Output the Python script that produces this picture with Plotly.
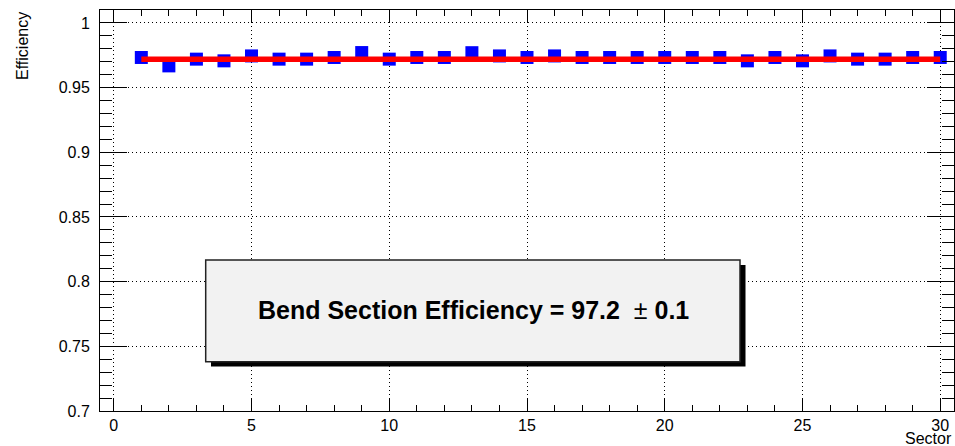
import plotly.graph_objects as go

# ---- data ----
sectors = list(range(1, 31))
efficiency = [0.9733, 0.9668, 0.9720, 0.9707, 0.9745, 0.9720, 0.9720, 0.9733, 0.9771, 0.9720,
              0.9733, 0.9733, 0.9770, 0.9745, 0.9733, 0.9745, 0.9733, 0.9733, 0.9733, 0.9733,
              0.9733, 0.9733, 0.9707, 0.9733, 0.9707, 0.9745, 0.9720, 0.9720, 0.9733, 0.9733]
fit_value = 0.972
fit_range = [1, 30]
y_tickvals = [0.7, 0.75, 0.8, 0.85, 0.9, 0.95, 1.0]
y_ticktext = ["0.7", "0.75", "0.8", "0.85", "0.9", "0.95", "1"]
x_tickvals = [0, 5, 10, 15, 20, 25, 30]
x_ticktext = ["0", "5", "10", "15", "20", "25", "30"]
label_text = "<b>Bend Section Efficiency = 97.2</b>  \u00b1 <b>0.1</b>"

FONT = "Liberation Sans, Arial, Helvetica, sans-serif"

fig = go.Figure()
fig.add_trace(go.Scatter(
    x=sectors, y=efficiency, mode="markers",
    marker=dict(symbol="square", size=13, color="#0000ff", line=dict(width=0)),
    showlegend=False, hoverinfo="x+y"))
fig.add_trace(go.Scatter(
    x=fit_range, y=[fit_value, fit_value], mode="lines",
    line=dict(color="#ff0000", width=5.5), showlegend=False))

W, H = 955, 446
ml, mr, mt, mb = 100, 1, 10, 35
pw, ph = W - ml - mr, H - mt - mb

def px_x(p):
    return (p - ml) / pw

def px_y(p):
    return (H - mb - p) / ph

# shadow and box (paper coords)
fig.add_shape(type="rect", xref="paper", yref="paper",
              x0=px_x(211), x1=px_x(745.5), y0=px_y(366.5), y1=px_y(265),
              fillcolor="black", line=dict(width=0), layer="above")
fig.add_shape(type="rect", xref="paper", yref="paper",
              x0=px_x(205.7), x1=px_x(740), y0=px_y(361.7), y1=px_y(260),
              fillcolor="#f2f2f2", line=dict(color="#222222", width=1.5), layer="above")
fig.add_annotation(xref="paper", yref="paper", x=px_x(473), y=px_y(310),
                   text=label_text, showarrow=False, xanchor="center", yanchor="middle",
                   font=dict(family=FONT, size=25, color="black"))

# axis titles
fig.add_annotation(xref="paper", yref="paper", x=px_x(22), y=1.0,
                   text="Efficiency", textangle=-90, showarrow=False,
                   xanchor="center", yanchor="top",
                   font=dict(family=FONT, size=16, color="black"))
fig.add_annotation(xref="paper", yref="paper", x=px_x(954), y=px_y(438.5),
                   text="Sector", showarrow=False, xanchor="right", yanchor="middle",
                   font=dict(family=FONT, size=16, color="black"))

fig.update_xaxes(range=[-0.5, 30.5], tickvals=x_tickvals, ticktext=x_ticktext,
                 ticks="inside", ticklen=12, tickwidth=1, tickcolor="black",
                 minor=dict(dtick=1, ticks="inside", ticklen=6, tickcolor="black", showgrid=False),
                 showline=True, linecolor="black", linewidth=1, mirror="ticks",
                 showgrid=True, gridcolor="black", gridwidth=1, griddash="1px,3px",
                 zeroline=False, tickfont=dict(family=FONT, size=16, color="black"))
fig.update_yaxes(range=[0.7, 1.01], tickvals=y_tickvals, ticktext=y_ticktext,
                 ticks="inside", ticklen=27, tickwidth=1, tickcolor="black",
                 minor=dict(dtick=0.01, tick0=0.7, ticks="inside", ticklen=12, tickcolor="black", showgrid=False),
                 showline=True, linecolor="black", linewidth=1, mirror="ticks",
                 showgrid=True, gridcolor="black", gridwidth=1, griddash="1px,3px",
                 zeroline=False, ticklabelstandoff=6,
                 tickfont=dict(family=FONT, size=16, color="black"))

fig.update_layout(width=W, height=H, margin=dict(l=ml, r=mr, t=mt, b=mb),
                  paper_bgcolor="white", plot_bgcolor="white",
                  font=dict(family=FONT, color="black"))

fig.write_html("out.html")
